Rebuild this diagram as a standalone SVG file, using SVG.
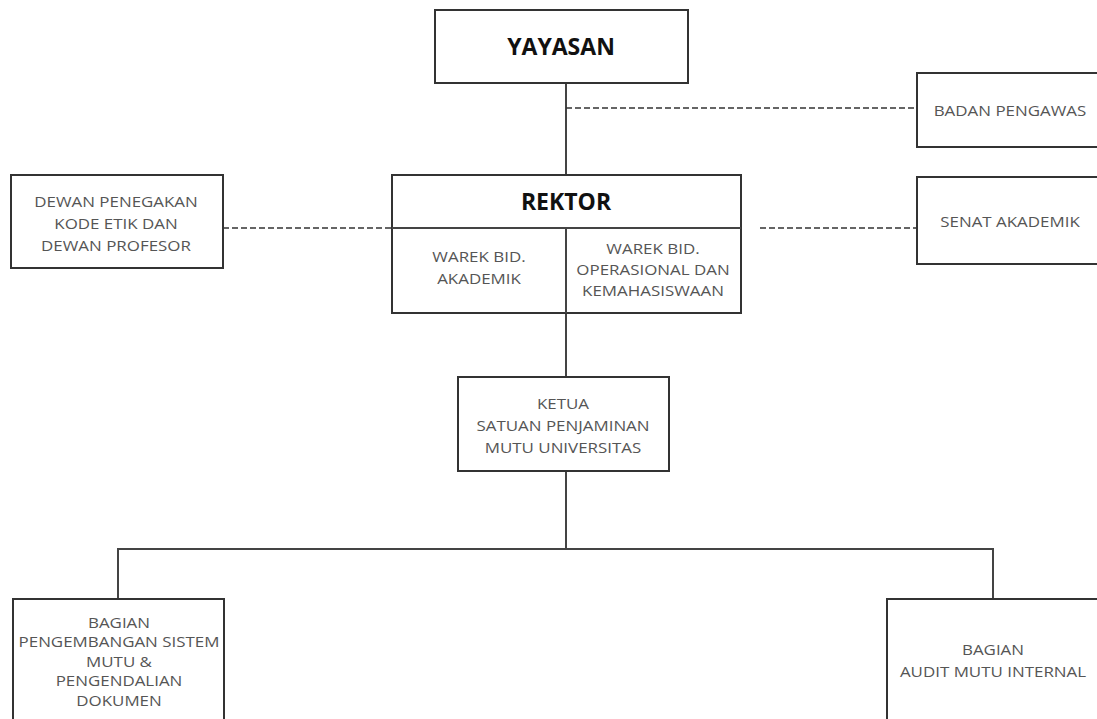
<svg xmlns="http://www.w3.org/2000/svg" width="1097" height="719" viewBox="0 0 1097 719">
<style>
.box{fill:#fff;stroke:#333;stroke-width:2}
.ln{fill:none;stroke:#444;stroke-width:2}
.dash{fill:none;stroke:#333;stroke-width:1.6;stroke-dasharray:6 3}
.t{font-family:"Open Sans","Liberation Sans",sans-serif;font-size:14px;fill:#555;text-anchor:middle}
.b{font-family:"Open Sans","Liberation Sans",sans-serif;font-size:23px;font-weight:700;fill:#111;text-anchor:middle}
</style>
<rect width="1097" height="719" fill="#fff"/>
<g id="connectors">
<path class="ln" d="M566 83V175"/>
<path class="dash" d="M566 108H917"/>
<path class="dash" d="M223 228H391"/>
<path class="dash" d="M760 228H917"/>
<path class="ln" d="M566 313V377"/>
<path class="ln" d="M566 471V549"/>
<path class="ln" d="M118 599V549H993V599"/>
</g>
<g id="yayasan">
<rect class="box" x="435" y="10" width="253" height="73"/>
<text class="b" x="561" y="55">YAYASAN</text>
</g>
<g id="badan-pengawas">
<rect class="box" x="917" y="73" width="200" height="74"/>
<text class="t" transform="translate(1010,116) scale(1.21,1)">BADAN PENGAWAS</text>
</g>
<g id="dewan">
<rect class="box" x="11" y="175" width="212" height="93"/>
<text class="t" transform="translate(116,207) scale(1.21,1)"><tspan x="0" y="0">DEWAN PENEGAKAN</tspan><tspan x="0" y="22">KODE ETIK DAN</tspan><tspan x="0" y="44">DEWAN PROFESOR</tspan></text>
</g>
<g id="rektor">
<rect class="box" x="392" y="175" width="349" height="138"/>
<path class="ln" d="M392 228H741M566 228V313"/>
<text class="b" x="566" y="210">REKTOR</text>
<text class="t" transform="translate(479,262) scale(1.21,1)"><tspan x="0" y="0">WAREK BID.</tspan><tspan x="0" y="22">AKADEMIK</tspan></text>
<text class="t" transform="translate(653,254) scale(1.21,1)"><tspan x="0" y="0">WAREK BID.</tspan><tspan x="0" y="21">OPERASIONAL DAN</tspan><tspan x="0" y="42">KEMAHASISWAAN</tspan></text>
</g>
<g id="senat-akademik">
<rect class="box" x="917" y="177" width="200" height="87"/>
<text class="t" transform="translate(1010,227) scale(1.21,1)">SENAT AKADEMIK</text>
</g>
<g id="ketua">
<rect class="box" x="458" y="377" width="211" height="94"/>
<text class="t" transform="translate(563,409) scale(1.21,1)"><tspan x="0" y="0">KETUA</tspan><tspan x="0" y="22">SATUAN PENJAMINAN</tspan><tspan x="0" y="44">MUTU UNIVERSITAS</tspan></text>
</g>
<g id="bagian-pengembangan">
<rect class="box" x="13" y="599" width="211" height="140"/>
<text class="t" transform="translate(119,628) scale(1.21,1)"><tspan x="0" y="0">BAGIAN</tspan><tspan x="0" y="19.5">PENGEMBANGAN SISTEM</tspan><tspan x="0" y="39">MUTU &amp;</tspan><tspan x="0" y="58.5">PENGENDALIAN</tspan><tspan x="0" y="78">DOKUMEN</tspan></text>
</g>
<g id="bagian-audit">
<rect class="box" x="887" y="599" width="230" height="140"/>
<text class="t" transform="translate(993,655) scale(1.21,1)"><tspan x="0" y="0">BAGIAN</tspan><tspan x="0" y="22">AUDIT MUTU INTERNAL</tspan></text>
</g>
</svg>
